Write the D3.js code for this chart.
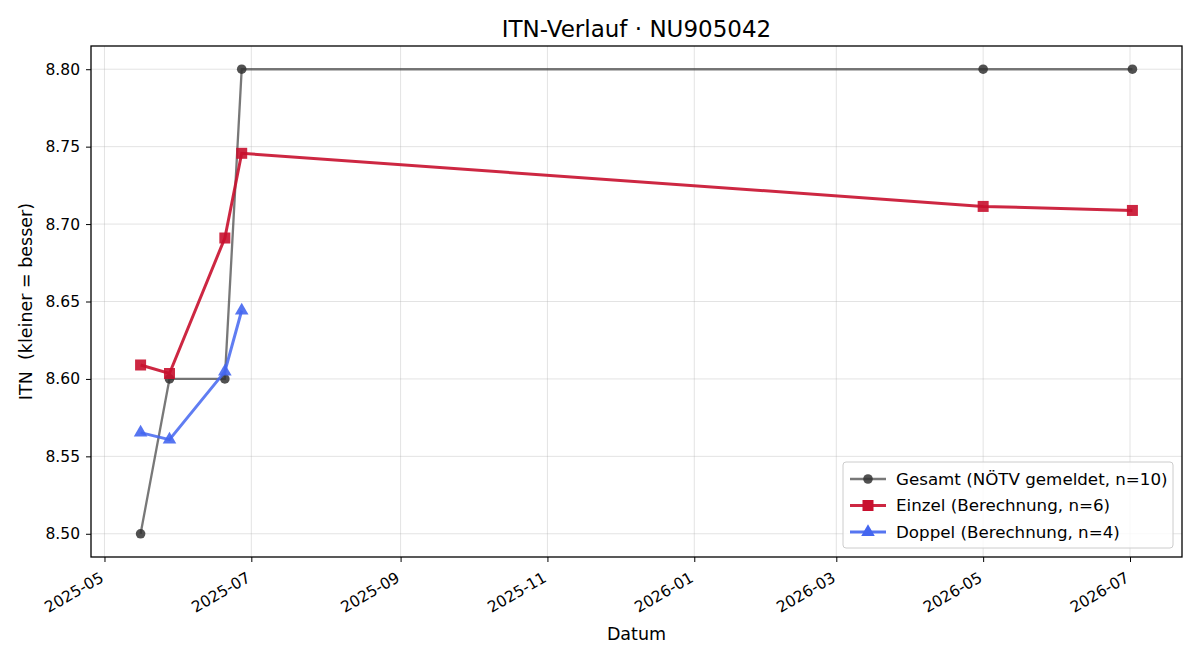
<!DOCTYPE html>
<html lang="de">
<head>
<meta charset="utf-8">
<title>ITN-Verlauf</title>
<script src="https://d3js.org/d3.v7.min.js"></script>
<style>
  body { margin: 0; background: #fff; }
  text { font-family: "DejaVu Sans", sans-serif; fill: #000; }
  .tick line { stroke: #000; }
  .domain { stroke: none; }
</style>
</head>
<body>
<script>
// data
const gesamtDates = ["2025-05-16", "2025-05-28", "2025-06-20", "2025-06-27", "2026-05-01", "2026-07-02"];
const gesamtValues = [8.50, 8.60, 8.60, 8.80, 8.80, 8.80];
const einzelDates = ["2025-05-16", "2025-05-28", "2025-06-20", "2025-06-27", "2026-05-01", "2026-07-02"];
const einzelValues = [8.609, 8.6035, 8.691, 8.7457, 8.7114, 8.7088];
const doppelDates = ["2025-05-16", "2025-05-28", "2025-06-20", "2025-06-27"];
const doppelValues = [8.5653, 8.5608, 8.6047, 8.6442];
const yTicks = [8.50, 8.55, 8.60, 8.65, 8.70, 8.75, 8.80];
const seriesNames = ["Gesamt (NÖTV gemeldet, n=10)", "Einzel (Berechnung, n=6)", "Doppel (Berechnung, n=4)"];

const W = 1200, H = 660;
const margin = {top: 46, right: 18, bottom: 103, left: 91};
const width = W - margin.left - margin.right,
      height = H - margin.top - margin.bottom;

const parse = d3.timeParse("%Y-%m-%d");
const mk = (dates, vals) => dates.map((d, i) => ({date: parse(d), value: vals[i]}));
const gesamt = mk(gesamtDates, gesamtValues);
const einzel = mk(einzelDates, einzelValues);
const doppel = mk(doppelDates, doppelValues);

const svg = d3.select("body").append("svg")
    .attr("width", W).attr("height", H);
const g = svg.append("g").attr("transform", `translate(${margin.left},${margin.top})`);

// domains with 5% padding like matplotlib
const allDates = gesamt.concat(einzel, doppel).map(d => d.date);
const [dmin, dmax] = d3.extent(allDates);
const pad = (dmax - dmin) * 0.05;
const x = d3.scaleTime()
    .domain([new Date(+dmin - pad), new Date(+dmax + pad)])
    .range([0, width]);
const y = d3.scaleLinear()
    .domain([8.485, 8.815])
    .range([height, 0]);

const xTickDates = d3.timeMonth.every(2).range(new Date(2025, 4, 1), new Date(2026, 7, 1));

// grid
g.append("g").selectAll("line").data(xTickDates).join("line")
    .attr("x1", d => x(d)).attr("x2", d => x(d))
    .attr("y1", 0).attr("y2", height)
    .attr("stroke", "#b0b0b0").attr("stroke-opacity", 0.35).attr("stroke-width", 1);
g.append("g").selectAll("line").data(yTicks).join("line")
    .attr("x1", 0).attr("x2", width)
    .attr("y1", d => y(d)).attr("y2", d => y(d))
    .attr("stroke", "#b0b0b0").attr("stroke-opacity", 0.35).attr("stroke-width", 1);

// axes
const xAxis = g.append("g")
    .attr("transform", `translate(0,${height})`)
    .call(d3.axisBottom(x).tickValues(xTickDates).tickFormat(d3.timeFormat("%Y-%m")).tickSize(5));
xAxis.selectAll("text")
    .attr("font-size", 15.5)
    .attr("text-anchor", "end")
    .attr("y", 0)
    .attr("dy", "0.35em")
    .attr("transform", "translate(-3,19) rotate(-30)");

const yAxis = g.append("g")
    .call(d3.axisLeft(y).tickValues(yTicks).tickFormat(d3.format(".2f")).tickSize(5).tickPadding(6));
yAxis.selectAll("text").attr("font-size", 15.5);

// frame
g.append("rect").attr("width", width).attr("height", height)
    .attr("fill", "none").attr("stroke", "#000").attr("stroke-width", 1.3);

const line = d3.line().x(d => x(d.date)).y(d => y(d.value));

// Gesamt
g.append("path").datum(gesamt).attr("d", line)
    .attr("fill", "none").attr("stroke", "#444").attr("stroke-opacity", 0.72).attr("stroke-width", 2.3);
g.selectAll(".pg").data(gesamt).join("circle")
    .attr("cx", d => x(d.date)).attr("cy", d => y(d.value)).attr("r", 4.8)
    .attr("fill", "#333").attr("fill-opacity", 0.85);

// Einzel
g.append("path").datum(einzel).attr("d", line)
    .attr("fill", "none").attr("stroke", "#c8102e").attr("stroke-opacity", 0.9).attr("stroke-width", 3);
g.selectAll(".pe").data(einzel).join("rect")
    .attr("x", d => x(d.date) - 5.5).attr("y", d => y(d.value) - 5.5)
    .attr("width", 11).attr("height", 11)
    .attr("fill", "#c8102e").attr("fill-opacity", 0.9);

// Doppel
const tri = d3.symbol().type(d3.symbolTriangle).size(80);
g.append("path").datum(doppel).attr("d", line)
    .attr("fill", "none").attr("stroke", "#4466f0").attr("stroke-opacity", 0.85).attr("stroke-width", 3);
g.selectAll(".pd").data(doppel).join("path")
    .attr("d", tri)
    .attr("transform", d => `translate(${x(d.date)},${y(d.value)})`)
    .attr("fill", "#4466f0").attr("fill-opacity", 0.9);

// title and labels
svg.append("text").attr("x", margin.left + width / 2).attr("y", 37)
    .attr("text-anchor", "middle").attr("font-size", 23)
    .text("ITN-Verlauf · NU905042");
svg.append("text").attr("x", margin.left + width / 2).attr("y", 640)
    .attr("text-anchor", "middle").attr("font-size", 17.5)
    .text("Datum");
svg.append("text")
    .attr("transform", `translate(32,${margin.top + height / 2}) rotate(-90)`)
    .attr("text-anchor", "middle").attr("font-size", 17.5)
    .text("ITN  (kleiner = besser)")
    .style("white-space", "pre");

// legend
const leg = g.append("g").attr("transform", `translate(${843 - margin.left},${462 - margin.top})`);
leg.append("rect").attr("width", 330).attr("height", 86).attr("rx", 3)
    .attr("fill", "#fff").attr("fill-opacity", 0.8)
    .attr("stroke", "#ccc").attr("stroke-width", 1);
const legColors = ["#444", "#c8102e", "#4466f0"];
seriesNames.forEach((name, i) => {
  const ly = 17 + i * 26.5;
  leg.append("line").attr("x1", 7).attr("x2", 43).attr("y1", ly).attr("y2", ly)
      .attr("stroke", legColors[i]).attr("stroke-width", i === 0 ? 2.3 : 3)
      .attr("stroke-opacity", i === 0 ? 0.72 : 0.9);
  if (i === 0) {
    leg.append("circle").attr("cx", 25).attr("cy", ly).attr("r", 4.8).attr("fill", "#333").attr("fill-opacity", 0.85);
  } else if (i === 1) {
    leg.append("rect").attr("x", 19.5).attr("y", ly - 5.5).attr("width", 11).attr("height", 11).attr("fill", "#c8102e");
  } else {
    leg.append("path").attr("d", tri).attr("transform", `translate(25,${ly})`).attr("fill", "#4466f0");
  }
  leg.append("text").attr("x", 53).attr("y", ly).attr("dy", "0.35em")
      .attr("font-size", 16.7).text(name);
});
</script>
</body>
</html>
